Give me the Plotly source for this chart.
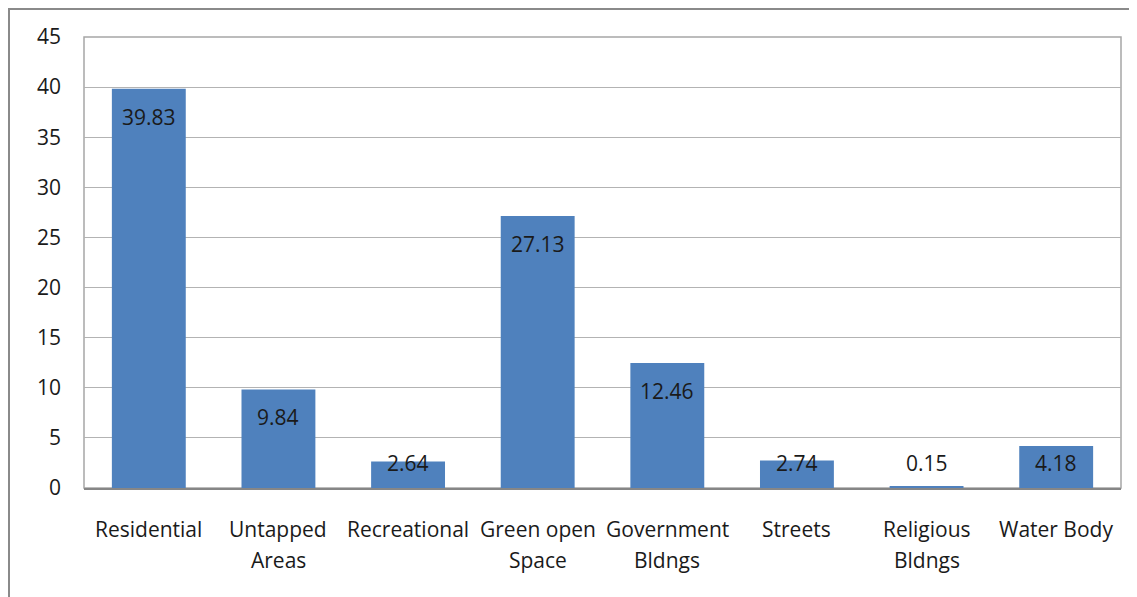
import plotly.graph_objects as go

categories = ["Residential", "Untapped Areas", "Recreational", "Green open Space",
              "Government Bldngs", "Streets", "Religious Bldngs", "Water Body"]
category_lines = [["Residential"], ["Untapped", "Areas"], ["Recreational"], ["Green open", "Space"],
                  ["Government", "Bldngs"], ["Streets"], ["Religious", "Bldngs"], ["Water Body"]]
values = [39.83, 9.84, 2.64, 27.13, 12.46, 2.74, 0.15, 4.18]
labels = ["39.83", "9.84", "2.64", "27.13", "12.46", "2.74", "0.15", "4.18"]
y_ticks = [0, 5, 10, 15, 20, 25, 30, 35, 40, 45]

# page body has an 8px margin; compensate so the chart lands where the reference has it
OFF = 8
W, H = 1137 - OFF, 597 - OFF
ml, mr, mt, mb = 84 - OFF, 16, 37 - OFF, 109
pw, ph = W - ml - mr, H - mt - mb
FONT = "Open Sans"
BAR = "#4F81BD"
TXT = "#1a1a1a"

fig = go.Figure()
fig.add_trace(go.Bar(x=list(range(len(categories))), y=values, marker_color=BAR,
                     marker_line_width=0, width=0.57, hoverinfo="skip"))

for i, (v, t) in enumerate(zip(values, labels)):
    fig.add_annotation(x=i, y=max(v - 2.8, 2.5), text=t, showarrow=False,
                       xanchor="center", yanchor="middle",
                       font=dict(family=FONT, size=21, color=TXT))

# category labels (two-line ones with Excel-like line spacing)
for i, lines in enumerate(category_lines):
    for k, line in enumerate(lines):
        fig.add_annotation(x=i, xref="x", y=0, yref="paper", text=line, showarrow=False,
                           xanchor="center", yanchor="middle", yshift=-(41 + 31 * k),
                           font=dict(family=FONT, size=21, color=TXT))

# outer chart frame (at page pixel 8,8 -> figure pixel 0,0)
fx0 = (1 - ml) / pw
fy1 = (H - mb - 1) / ph
fig.add_shape(type="rect", xref="paper", yref="paper", x0=fx0, x1=1.2, y0=-0.5, y1=fy1,
              line=dict(color="#8a8a8a", width=2), fillcolor="rgba(0,0,0,0)", layer="below")
# plot-area border
fig.add_shape(type="rect", xref="paper", yref="paper", x0=0, x1=1, y0=0, y1=1,
              line=dict(color="#a6a6a6", width=1.5), fillcolor="rgba(0,0,0,0)", layer="below")

fig.update_layout(
    width=W, height=H,
    margin=dict(l=ml, r=mr, t=mt, b=mb),
    paper_bgcolor="white", plot_bgcolor="white",
    showlegend=False,
    bargap=0.43,
    font=dict(family=FONT, size=21, color=TXT),
    xaxis=dict(tickmode="array", tickvals=list(range(len(categories))),
               showticklabels=False,
               range=[-0.5, len(categories) - 0.5], showgrid=False, zeroline=False,
               showline=True, linecolor="#868686", linewidth=2, ticks=""),
    yaxis=dict(range=[0, 45], tickmode="array", tickvals=y_ticks,
               showgrid=True, gridcolor="#b3b3b3", gridwidth=1.2, zeroline=False,
               showline=False, ticks="", ticklabelstandoff=22,
               tickfont=dict(family=FONT, size=21, color=TXT)),
)

fig.write_html("out.html")
